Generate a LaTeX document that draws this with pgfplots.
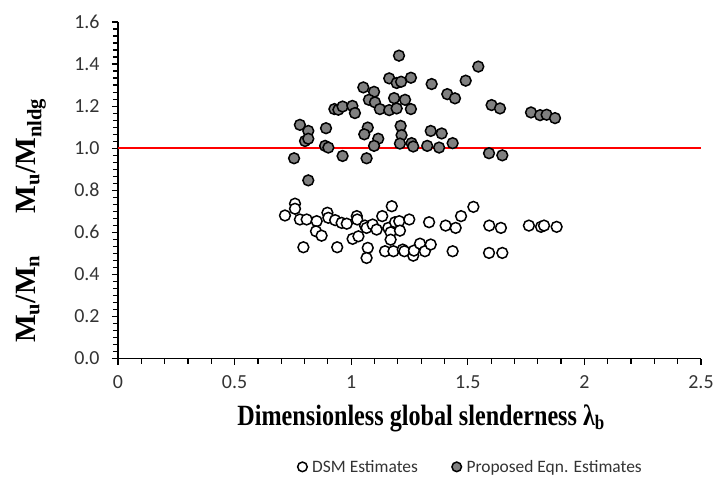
\documentclass[border=0pt]{standalone}
\usepackage{pgfplots}
\pgfplotsset{compat=1.18}
\usepackage{fontspec}
\setmainfont{Liberation Serif}
\newfontfamily\calib{Carlito}
\begin{document}
\begin{tikzpicture}
\begin{axis}[
  name=ax,
  scale only axis,
  width=583bp, height=336.5bp,
  xmin=0, xmax=2.5, ymin=0, ymax=1.6,
  axis x line*=bottom, axis y line*=left,
  axis line style={line width=1.3bp, black},
  xtick={0,0.5,...,2.5},
  ytick={0,0.2,...,1.6},
  minor x tick num=4,
  minor y tick num=5,
  tick align=outside,
  major tick length=6bp, minor tick length=5bp,
  every tick/.style={line width=1.2bp, black},
  tick label style={font=\calib\fontsize{20}{22}\selectfont, text=black!80},
  /pgf/number format/assume math mode=true,
  xticklabel style={/pgf/number format/fixed, yshift=-8bp},
  yticklabel style={/pgf/number format/fixed, /pgf/number format/fixed zerofill, /pgf/number format/precision=1, xshift=-9bp},
  xlabel={\scalebox{0.97}[1.18]{\textbf{Dimensionless global slenderness λ\textsubscript{b}}}},
  xlabel style={font=\fontsize{25}{28}\selectfont, at={(axis description cs:0.52,-0.177)}, anchor=center},
  ylabel={\textbf{M\textsubscript{u}/M\textsubscript{n}\hspace{42bp}M\textsubscript{u}/M\textsubscript{nldg}}},
  ylabel style={font=\fontsize{29.5}{32}\selectfont, at={(axis description cs:-0.149,0.41)}, anchor=center, rotate=0},
  clip=false,
  legend style={draw=none, fill=none, at={(axis description cs:0.605,-0.322)}, anchor=center,
    font=\calib\fontsize{17.5}{19}\selectfont, text=black!80, legend columns=2,
    /tikz/every odd column/.append style={column sep=3bp},
    /tikz/every even column/.append style={column sep=32bp}},
  legend cell align=left,
  legend image code/.code={\draw[#1, mark size=4.8bp, line width=1.5bp] plot coordinates {(0bp,0bp)};},
]
\addplot[red, line width=2.2bp, forget plot] coordinates {(0,1) (2.5,1)};
\addplot[only marks, mark=*, mark size=5.4bp, mark options={fill=white, draw=black, line width=1.5bp}] coordinates {
(0.759,0.736) (0.759,0.712) (0.716,0.680) (0.780,0.661) (0.809,0.661) (0.852,0.653)
(0.849,0.605) (0.873,0.584) (0.795,0.529) (0.898,0.693) (0.902,0.669) (0.931,0.658)
(0.959,0.645) (0.981,0.641) (0.940,0.529) (1.024,0.677) (1.026,0.661) (1.006,0.569)
(1.031,0.581) (1.059,0.632) (1.066,0.621) (1.092,0.637) (1.109,0.613) (1.133,0.677)
(1.174,0.724) (1.159,0.621) (1.169,0.600) (1.169,0.565) (1.188,0.648) (1.206,0.653)
(1.209,0.608) (1.249,0.661) (1.071,0.526) (1.066,0.478) (1.145,0.510) (1.181,0.510)
(1.221,0.518) (1.228,0.510) (1.266,0.489) (1.269,0.513) (1.295,0.546) (1.316,0.510)
(1.341,0.542) (1.334,0.648) (1.405,0.632) (1.448,0.621) (1.471,0.677) (1.435,0.510)
(1.524,0.721) (1.592,0.632) (1.642,0.621) (1.591,0.502) (1.648,0.502)
(1.762,0.632) (1.814,0.626) (1.827,0.632) (1.881,0.626)
};
\addlegendentry{DSM Estimates}
\addplot[only marks, mark=*, mark size=5.4bp, mark options={fill=black!50, draw=black, line width=1.5bp}] coordinates {
(1.205,1.440) (1.163,1.332) (1.195,1.310) (1.214,1.316) (1.256,1.335) (1.345,1.305)
(1.412,1.257) (1.445,1.237) (1.491,1.321) (1.545,1.388) (1.052,1.289) (1.098,1.268)
(1.076,1.230) (1.102,1.218) (1.184,1.238) (1.231,1.230) (1.123,1.186) (1.163,1.181)
(1.195,1.189) (1.256,1.186) (0.928,1.186) (0.945,1.183) (0.963,1.198) (1.005,1.201)
(1.016,1.167) (0.780,1.111) (0.816,1.082) (0.802,1.034) (0.816,1.045) (0.892,1.095)
(0.888,1.011) (0.902,1.003) (0.755,0.952) (0.816,0.847) (0.963,0.963) (1.066,0.952)
(1.071,1.098) (1.056,1.066) (1.116,1.045) (1.098,1.011) (1.212,1.106) (1.216,1.062)
(1.209,1.022) (1.259,1.024) (1.266,1.008) (1.326,1.011) (1.341,1.082) (1.388,1.070)
(1.377,1.003) (1.435,1.024) (1.602,1.205) (1.638,1.189) (1.771,1.170) (1.810,1.157)
(1.838,1.159) (1.874,1.143) (1.591,0.976) (1.648,0.966)
};
\addlegendentry{Proposed Eqn. Estimates}
\end{axis}
\pgfresetboundingbox
\path[use as bounding box] (ax.south west) ++(-118bp,-121.5bp) rectangle ++(716bp,480bp);
\end{tikzpicture}
\end{document}
